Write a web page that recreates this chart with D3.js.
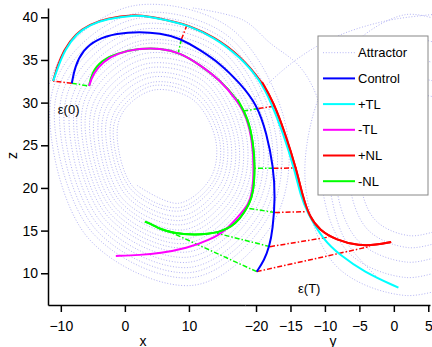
<!DOCTYPE html>
<html>
<head>
<meta charset="utf-8">
<script src="https://cdn.jsdelivr.net/npm/d3@7"></script>
<style>
  body { margin: 0; background: #fff; }
  svg text { font-family: "Liberation Sans", Arial, Helvetica, sans-serif; fill: #000; }
</style>
</head>
<body>
<svg id="chart" width="432" height="347"></svg>
<script>
// tick labels
const zTicks = [10, 15, 20, 25, 30, 35, 40];
const xTicks = [-10, 0, 10];
const yTicks = [-20, -15, -10, -5, 0, 5];

// trajectories as [h, z]; h is in x-axis units, values past ~18.7 sit under the y axis
const control = [[-8.28,32.27],[-7.81,34.21],[-6.52,36.17],[-4.42,37.42],[-1.30,38.12],[2.34,38.31],
  [5.47,38.12],[8.59,37.57],[11.72,36.17],[14.84,34.61],[17.97,32.27],[20.58,29.84],[22.14,26.41],
  [23.17,22.49],[23.48,18.98],[23.08,15.07],[22.55,13.12],[21.77,11.56],[20.58,10.19]];
const plusTL = [[-11.20,32.53],[-10.42,34.21],[-9.38,36.17],[-7.55,38.12],[-5.47,39.10],[-2.86,39.80],
  [1.30,40.27],[3.91,40.07],[7.55,39.48],[9.64,39.10],[13.80,37.73],[17.97,35.38],[21.09,32.65],
  [22.80,30.07],[24.70,26.44],[26.50,22.10],[27.45,19.06],[28.39,17.22],[30.98,13.90],[33.59,12.14],
  [37.23,10.19],[42.70,8.31]];
const plusNL = [[-11.20,32.53],[-10.58,34.18],[-9.61,36.11],[-7.66,38.12],[-5.47,39.18],[-2.86,39.86],
  [1.30,40.35],[3.91,40.09],[7.55,39.51],[9.69,39.12],[13.91,37.75],[18.13,35.41],[21.41,32.42],
  [23.20,30.07],[25.00,26.44],[26.80,22.10],[27.77,18.98],[28.80,16.63],[30.36,15.07],[32.97,13.90],
  [36.61,13.20],[39.22,13.32],[41.56,13.67]];
const minusTL = [[-5.58,31.95],[-4.95,33.44],[-3.39,34.80],[-1.30,35.78],[2.34,36.37],[5.47,36.37],
  [8.59,35.87],[11.72,34.41],[14.84,32.65],[17.45,30.31],[19.06,28.32],[19.92,25.27],[20.15,22.46],
  [19.92,19.41],[19.20,18.00],[18.30,17.18],[15.89,15.07],[13.28,13.90],[9.64,12.93],[5.47,12.34],
  [2.34,12.14],[-1.41,12.03]];
const minusNL = [[-5.58,31.95],[-5.19,33.47],[-3.67,34.94],[-1.30,35.78],[2.34,36.37],[5.47,36.37],
  [8.59,35.87],[11.72,34.41],[14.84,32.65],[17.58,30.37],[19.22,28.20],[20.05,25.23],[20.31,22.49],
  [20.05,19.37],[19.38,18.12],[18.67,17.18],[17.45,15.86],[14.84,14.69],[10.67,14.49],[7.55,14.69],
  [5.47,15.19],[4.38,15.66],[3.13,16.05]];

// error vectors at matching times: [control, perturbed run]
const epsGreen = [[[-8.28,32.27],[-5.58,31.95]],[[8.83,37.42],[8.36,35.93]],[[20.86,29.31],[18.52,29.02]],
  [[23.20,22.30],[20.31,22.30]],[[23.44,17.12],[19.22,17.62]],[[22.66,13.12],[14.38,14.69]],
  [[20.58,10.19],[6.72,14.96]]];
const epsRed = [[[-8.28,32.27],[-11.20,32.53]],[[8.83,37.42],[9.69,39.10]],[[20.86,29.31],[23.36,29.60]],
  [[23.20,22.30],[26.80,22.34]],[[23.44,17.12],[28.28,17.22]],[[22.66,13.12],[31.88,14.25]],
  [[20.58,10.19],[38.28,13.14]]];

// attractor, left wing spiral (outer to inner)
const attractorLeft = [
  [-12.8,29.7],[-9.0,36.5],[1.7,41.4],[16.7,38.6],[25.3,26.6],[23.2,16.0],[10.8,8.6],[-5.7,14.1],
  [-11.7,29.4],[-8.1,35.8],[2.0,40.5],[16.1,37.8],[24.2,26.5],[22.3,16.5],[10.6,9.5],[-5.0,14.7],
  [-11.0,29.2],[-7.5,35.4],[2.2,39.9],[15.7,37.3],[23.5,26.4],[21.7,16.8],[10.4,10.1],[-4.5,15.1],
  [-10.2,29.0],[-6.9,34.9],[2.4,39.2],[15.4,36.7],[22.8,26.3],[21.1,17.1],[10.3,10.7],[-4.0,15.5],
  [-9.5,28.8],[-6.3,34.5],[2.6,38.6],[15.0,36.2],[22.1,26.3],[20.4,17.5],[10.1,11.3],[-3.6,15.9],
  [-8.7,28.6],[-5.7,34.0],[2.8,38.0],[14.6,35.7],[21.4,26.2],[19.8,17.8],[10.0,11.9],[-3.1,16.3],
  [-8.0,28.5],[-5.1,33.6],[2.9,37.3],[14.2,35.2],[20.7,26.1],[19.2,18.1],[9.8,12.5],[-2.7,16.7],
  [-7.5,28.3],[-4.7,33.2],[3.1,36.9],[13.9,34.8],[20.2,26.1],[18.7,18.4],[9.7,13.0],[-2.3,17.0],
  [-6.8,28.2],[-4.2,32.9],[3.2,36.3],[13.6,34.3],[19.6,26.0],[18.2,18.7],[9.6,13.5],[-1.9,17.4],
  [-6.2,28.0],[-3.7,32.5],[3.4,35.8],[13.3,33.9],[19.0,25.9],[17.6,18.9],[9.4,14.0],[-1.5,17.7],
  [-5.5,27.8],[-3.1,32.1],[3.6,35.2],[13.0,33.4],[18.3,25.9],[17.1,19.2],[9.3,14.6],[-1.1,18.1],
  [-4.9,27.6],[-2.6,31.7],[3.7,34.6],[12.6,33.0],[17.7,25.8],[16.5,19.5],[9.2,15.1],[-0.7,18.4],
  [-4.2,27.5],[-2.1,31.3],[3.9,34.1],[12.3,32.5],[17.1,25.8],[16.0,19.8],[9.0,15.7],[-0.3,18.7],
  [-3.6,27.3],[-1.6,30.9],[4.1,33.5],[12.0,32.0],[16.5,25.7],[15.4,20.1],[8.9,16.2],[0.2,19.1],
  [-3.0,27.2],[-1.1,30.5],[4.2,33.0],[11.6,31.6],[15.9,25.6],[14.9,20.4],[8.8,16.7],[0.6,19.4],
  [-2.3,27.0],[-0.5,30.1],[4.4,32.4],[11.3,31.1],[15.3,25.6],[14.3,20.7],[8.6,17.3],[1.0,19.8],
  [-1.8,26.9],[0.0,29.8],[4.5,32.0],[11.0,30.7],[14.8,25.5],[13.9,20.9],[8.5,17.7],[1.3,20.1],
  [-1.2,26.7],[0.3,29.5],[4.7,31.5],[10.7,30.3],[14.2,25.5],[13.4,21.2],[8.4,18.2],[1.7,20.4]];
// attractor, right wing arcs
const attractorRight = [
  [[53,38.5],[43.7,40.3],[32.8,34.4],[28.1,21.5],[32.8,11.0],[43.7,7.4],[53,9]],
  [[52,36],[44.0,37.5],[34.7,32.5],[30.7,21.5],[34.7,12.6],[43.9,9.5],[52,11]],
  [[51,34],[44.1,35.0],[36.3,30.8],[32.9,21.5],[36.3,13.9],[44.1,11.3],[51,12.5]],
  [[50.5,32],[44.3,32.8],[37.8,29.2],[35.0,21.5],[37.8,15.2],[44.3,13.0],[50.5,14]],
  [[50,30.3],[44.5,30.9],[39.0,27.9],[36.7,21.5],[39.0,16.3],[44.5,14.4],[50,15.3]]];
// attractor, switches between wings
const attractorSwitch = [
  [[10.63,41.09],[18.44,39.68],[22.66,36.99],[27.34,34.18],[30.16,30.31],[31.25,25.62],[32.03,19.76],[34.38,13.90],[39.84,9.21]],
  [[17.97,27.96],[21.41,31.48],[27.34,35.35],[33.59,37.93],[41.41,39.68],[49.2,40.4]]];

const legendNames = ['Attractor', 'Control', '+TL', '-TL', '+NL', '-NL'];
const legendColors = ['#b4b4f4', '#0000ff', '#00ffff', '#ff00ff', '#ff0000', '#00ff00'];

const svg = d3.select('#chart');

// scales: x and y share the bottom edge
const xScale = d3.scaleLinear().domain([-12, 18.75]).range([48, 245]);
const yScale = d3.scaleLinear().domain([-21.6, 5.25]).range([245, 430]);
const zScale = d3.scaleLinear().domain([6.28, 41.09]).range([305, 8]);

const loopLine = d3.line()
  .x(d => xScale(d[0]))
  .y(d => zScale(d[1]))
  .curve(d3.curveCatmullRom);
const runLine = d3.line()
  .x(d => xScale(d[0]))
  .y(d => zScale(d[1]))
  .curve(d3.curveBasis);

svg.append('clipPath').attr('id', 'plotArea')
  .append('rect').attr('x', 48).attr('y', 0).attr('width', 384).attr('height', 305);

const plot = svg.append('g').attr('clip-path', 'url(#plotArea)');

// attractor, dotted
const dotted = g => g.attr('fill', 'none').attr('stroke', '#b4b4f4')
  .attr('stroke-width', 1).attr('stroke-dasharray', '1,1.8');
plot.append('path').datum(attractorLeft).attr('d', loopLine).call(dotted);
attractorRight.forEach(a => plot.append('path').datum(a).attr('d', loopLine).call(dotted));
attractorSwitch.forEach(a => plot.append('path').datum(a).attr('d', loopLine).call(dotted));

// error vectors, dash-dot
const straight = d3.line().x(d => xScale(d[0])).y(d => zScale(d[1]));
const drawEps = (segs, color) => segs.forEach(s => {
  plot.append('path').datum(s).attr('d', straight)
    .attr('fill', 'none').attr('stroke', color).attr('stroke-width', 1.5)
    .attr('stroke-dasharray', '5,2,1.5,2');
});
drawEps(epsGreen, '#00ff00');
drawEps(epsRed, '#ff0000');

// trajectories
const drawRun = (data, color) => plot.append('path').datum(data).attr('d', runLine)
  .attr('fill', 'none').attr('stroke', color).attr('stroke-width', 2);
drawRun(control, '#0000ff');
drawRun(plusNL, '#ff0000');
drawRun(plusTL, '#00ffff');
drawRun(plusNL.slice(12), '#ff0000');   // NL run sits on top once it leaves the TL run
drawRun(minusNL, '#00ff00');
drawRun(minusTL, '#ff00ff');
drawRun(minusNL.slice(9), '#00ff00');

// annotations
svg.append('text').attr('x', xScale(-10.47)).attr('y', zScale(28.67))
  .attr('font-size', 13).text('ε(0)');
svg.append('text').attr('x', xScale(27.03)).attr('y', zScale(7.69))
  .attr('font-size', 13).text('ε(T)');

// axes
const styleAxis = g => {
  g.selectAll('path, line').attr('stroke', '#000').attr('stroke-width', 1.5);
  g.selectAll('text').attr('font-size', 14).attr('fill', '#000')
    .attr('font-family', '"Liberation Sans", Arial, Helvetica, sans-serif');
};
svg.append('g').attr('transform', 'translate(48,0)')
  .call(d3.axisLeft(zScale).tickValues(zTicks).tickSize(7).tickSizeOuter(0).tickPadding(3))
  .call(styleAxis);
svg.append('g').attr('transform', 'translate(0,305)')
  .call(d3.axisBottom(xScale).tickValues(xTicks).tickSize(7).tickSizeOuter(0).tickPadding(9))
  .call(styleAxis);
svg.append('g').attr('transform', 'translate(0,305)')
  .call(d3.axisBottom(yScale).tickValues(yTicks).tickSize(7).tickSizeOuter(0).tickPadding(9))
  .call(styleAxis);

svg.append('text').attr('x', 143).attr('y', 345.5).attr('text-anchor', 'middle')
  .attr('font-size', 14).text('x');
svg.append('text').attr('x', 333).attr('y', 345.5).attr('text-anchor', 'middle')
  .attr('font-size', 14).text('y');
svg.append('text').attr('transform', 'translate(16.5,155.5) rotate(-90)')
  .attr('text-anchor', 'middle').attr('font-size', 14).text('z');

// legend
const legend = svg.append('g');
legend.append('rect').attr('x', 318).attr('y', 36).attr('width', 110).attr('height', 159)
  .attr('fill', '#fff').attr('stroke', '#888').attr('stroke-width', 1);
legendNames.forEach((name, i) => {
  const y = 52.7 + i * 25.7;
  const ln = legend.append('line').attr('x1', 323).attr('x2', 355).attr('y1', y).attr('y2', y)
    .attr('stroke', legendColors[i]);
  if (i === 0) ln.attr('stroke-width', 1).attr('stroke-dasharray', '1,1.8');
  else ln.attr('stroke-width', 2);
  legend.append('text').attr('x', 358).attr('y', y + 4.6).attr('font-size', 13).text(name);
});
</script>
</body>
</html>
